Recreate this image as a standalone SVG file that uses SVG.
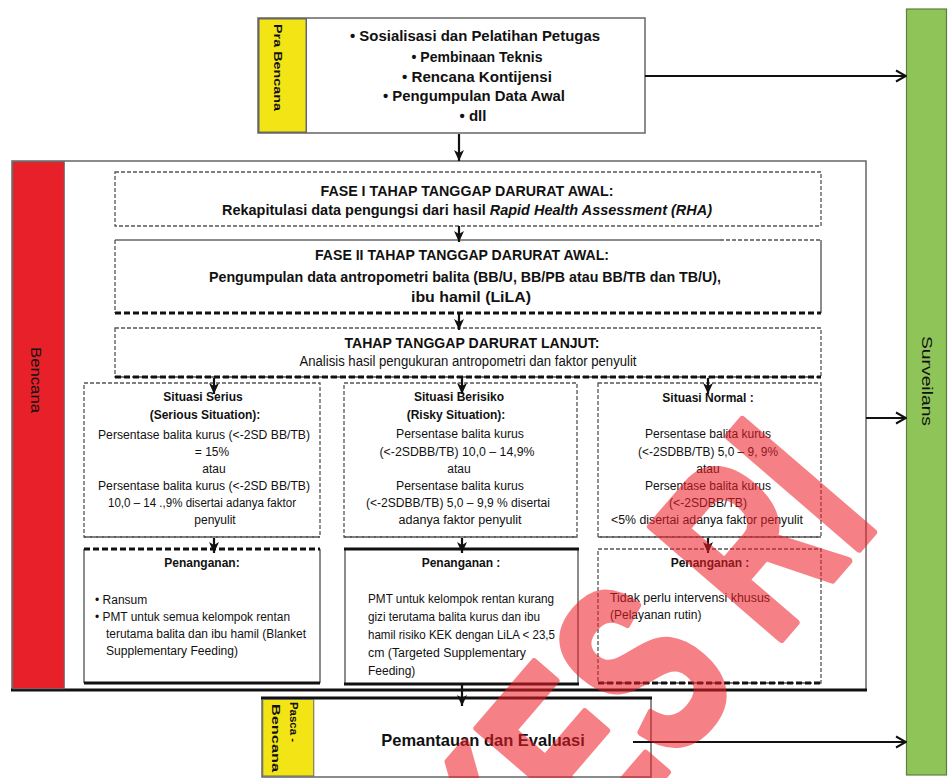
<svg xmlns="http://www.w3.org/2000/svg" width="949" height="778" viewBox="0 0 949 778">
<style>
text{font-family:"Liberation Sans",Arial,sans-serif;fill:#111}
.b{font-weight:bold}
.t15{font-size:15px;font-weight:bold}
.t14{font-size:14px}
.t12{font-size:12px}
.m{text-anchor:middle}
.box{fill:#fff;stroke:#666;stroke-width:1.5}
.dash{fill:#fff;stroke:#555;stroke-width:1.3;stroke-dasharray:4 2}
.thickd{stroke:#111;stroke-width:3;stroke-dasharray:6 3;fill:none}
.thick{stroke:#111;stroke-width:3;fill:none}
.grey{stroke:#666;stroke-width:1.5;fill:none}
.greyd{stroke:#555;stroke-width:1.3;stroke-dasharray:4 2;fill:none}
.dn{stroke:#111;stroke-width:2.2;fill:none;marker-end:url(#ah)}
.rt{stroke:#111;stroke-width:2;fill:none;marker-end:url(#ao)}
.wm{font-size:250px;font-weight:bold;text-anchor:end;fill:#EE1C25;stroke:#EE1C25;stroke-width:8;stroke-linejoin:round}
</style>
<defs>
<marker id="ah" markerUnits="userSpaceOnUse" markerWidth="12" markerHeight="12" viewBox="0 0 12 12" refX="11" refY="6" orient="auto">
<path d="M0,1 L11,6 L0,11 L3,6 z" fill="#111"/>
</marker>
<marker id="ao" markerUnits="userSpaceOnUse" markerWidth="14" markerHeight="14" viewBox="0 0 14 14" refX="13" refY="7" orient="auto">
<path d="M3,1.5 L13,7 L3,12.5" fill="none" stroke="#111" stroke-width="2"/>
</marker>
</defs>

<g id="surveilans">
<rect x="906.5" y="9" width="40" height="766" fill="#8FC458" stroke="#5f7f3c" stroke-width="1.2"/>
<text class="t14" transform="translate(922,336) rotate(90)" textLength="90" lengthAdjust="spacingAndGlyphs">Surveilans</text>
</g>

<g id="pra-bencana">
<rect class="box" x="258" y="18" width="387" height="115"/>
<rect x="258.75" y="18.75" width="47.5" height="113.5" fill="#F3E515" stroke="#666" stroke-width="1.5"/>
<text transform="translate(274,24) rotate(90)" font-size="10" font-weight="bold" textLength="87" lengthAdjust="spacingAndGlyphs">Pra Bencana</text>
<text class="t15 m" x="475" y="41" textLength="250" lengthAdjust="spacingAndGlyphs">• Sosialisasi dan Pelatihan Petugas</text>
<text class="t15 m" x="477" y="62" textLength="131" lengthAdjust="spacingAndGlyphs">• Pembinaan Teknis</text>
<text class="t15 m" x="477" y="82" textLength="150" lengthAdjust="spacingAndGlyphs">• Rencana Kontijensi</text>
<text class="t15 m" x="474" y="101" textLength="182" lengthAdjust="spacingAndGlyphs">• Pengumpulan Data Awal</text>
<text class="t15 m" x="473" y="121">• dll</text>
</g>

<g id="bencana">
<rect class="box" x="12" y="161" width="854" height="529"/>
<line class="thick" x1="11" y1="690" x2="867" y2="690"/>
<rect x="12.75" y="161.75" width="51.5" height="527" fill="#E8202A" stroke="#666" stroke-width="1"/>
<text class="t14" transform="translate(31,347) rotate(90)" textLength="66" lengthAdjust="spacingAndGlyphs">Bencana</text>
</g>

<g id="fase1">
<rect class="dash" x="115" y="172" width="706" height="54"/>
<text class="t14 b m" x="467" y="196" textLength="293" lengthAdjust="spacingAndGlyphs">FASE I TAHAP TANGGAP DARURAT AWAL:</text>
<text class="t14 b m" x="467" y="215" textLength="490" lengthAdjust="spacingAndGlyphs">Rekapitulasi data pengungsi dari hasil <tspan font-style="italic">Rapid Health Assessment (RHA)</tspan></text>
</g>

<g id="fase2">
<rect x="115" y="240" width="706" height="73" fill="#fff"/>
<line class="grey" x1="115" y1="240" x2="720" y2="240" stroke-width="2"/>
<line class="greyd" x1="720" y1="240" x2="821" y2="240"/>
<line class="greyd" x1="115" y1="240" x2="115" y2="313"/>
<line class="grey" x1="821" y1="240" x2="821" y2="313"/>
<line class="thickd" x1="115" y1="313" x2="821" y2="313"/>
<text class="t14 b m" x="462" y="260" textLength="294" lengthAdjust="spacingAndGlyphs">FASE II TAHAP TANGGAP DARURAT AWAL:</text>
<text class="t14 b m" x="465" y="282" textLength="512" lengthAdjust="spacingAndGlyphs">Pengumpulan data antropometri balita (BB/U, BB/PB atau BB/TB dan TB/U),</text>
<text class="t14 b m" x="471" y="302" textLength="120" lengthAdjust="spacingAndGlyphs">ibu hamil (LiLA)</text>
</g>

<g id="lanjut">
<rect class="dash" x="115" y="328" width="706" height="49"/>
<line class="thickd" x1="115" y1="377" x2="821" y2="377"/>
<text class="t14 b m" x="472" y="348" textLength="255" lengthAdjust="spacingAndGlyphs">TAHAP TANGGAP DARURAT LANJUT:</text>
<text class="t14 m" x="468" y="366" textLength="337" lengthAdjust="spacingAndGlyphs">Analisis hasil pengukuran antropometri dan faktor penyulit</text>
</g>

<g id="serius">
<rect class="dash" x="84" y="383" width="236" height="154"/>
<line class="greyd" x1="84" y1="537" x2="320" y2="537" stroke="#222" stroke-width="2"/>
<text class="t12 b m" x="203" y="401">Situasi Serius</text>
<text class="t12 b m" x="205" y="419">(Serious Situation):</text>
<text class="t12 m" x="204" y="439" textLength="212" lengthAdjust="spacingAndGlyphs">Persentase balita kurus (&lt;-2SD BB/TB)</text>
<text class="t12 m" x="212" y="456">= 15%</text>
<text class="t12 m" x="214" y="473">atau</text>
<text class="t12 m" x="204" y="490" textLength="212" lengthAdjust="spacingAndGlyphs">Persentase balita kurus (&lt;-2SD BB/TB)</text>
<text class="t12 m" x="202" y="507" textLength="188" lengthAdjust="spacingAndGlyphs">10,0 – 14 .,9% disertai adanya faktor</text>
<text class="t12 m" x="215" y="524">penyulit</text>
</g>

<g id="berisiko">
<rect class="dash" x="344" y="383" width="233" height="154"/>
<line class="greyd" x1="344" y1="537" x2="577" y2="537" stroke="#222" stroke-width="2"/>
<text class="t12 b m" x="459" y="401">Situasi Berisiko</text>
<text class="t12 b m" x="456" y="419">(Risky Situation):</text>
<text class="t12 m" x="460" y="438" textLength="128" lengthAdjust="spacingAndGlyphs">Persentase balita kurus</text>
<text class="t12 m" x="457" y="456" textLength="155" lengthAdjust="spacingAndGlyphs">(&lt;-2SDBB/TB) 10,0 – 14,9%</text>
<text class="t12 m" x="459" y="473">atau</text>
<text class="t12 m" x="460" y="490" textLength="128" lengthAdjust="spacingAndGlyphs">Persentase balita kurus</text>
<text class="t12 m" x="458" y="507" textLength="184" lengthAdjust="spacingAndGlyphs">(&lt;-2SDBB/TB) 5,0 – 9,9 % disertai</text>
<text class="t12 m" x="460" y="524" textLength="123" lengthAdjust="spacingAndGlyphs">adanya faktor penyulit</text>
</g>

<g id="normal">
<rect class="dash" x="598" y="383" width="223" height="154"/>
<line class="greyd" x1="598" y1="537" x2="821" y2="537" stroke="#222" stroke-width="2"/>
<text class="t12 b m" x="708" y="402">Situasi Normal :</text>
<text class="t12 m" x="708" y="438" textLength="126" lengthAdjust="spacingAndGlyphs">Persentase balita kurus</text>
<text class="t12 m" x="708" y="456" textLength="140" lengthAdjust="spacingAndGlyphs">(&lt;-2SDBB/TB) 5,0 – 9, 9%</text>
<text class="t12 m" x="708" y="473">atau</text>
<text class="t12 m" x="708" y="490" textLength="126" lengthAdjust="spacingAndGlyphs">Persentase balita kurus</text>
<text class="t12 m" x="708" y="507" textLength="78" lengthAdjust="spacingAndGlyphs">(&lt;-2SDBB/TB)</text>
<text class="t12 m" x="707" y="524" textLength="192" lengthAdjust="spacingAndGlyphs">&lt;5% disertai adanya faktor penyulit</text>
</g>

<g id="penanganan-serius">
<rect x="84" y="549" width="236" height="134" fill="#fff"/>
<line class="grey" x1="84" y1="549" x2="84" y2="683"/>
<line class="grey" x1="320" y1="549" x2="320" y2="683"/>
<line class="thickd" x1="84" y1="549" x2="320" y2="549" stroke-width="2.5"/>
<line class="thick" x1="84" y1="683" x2="320" y2="683"/>
<text class="t12 b m" x="202" y="567">Penanganan:</text>
<text class="t12" x="95" y="604">• Ransum</text>
<text class="t12" x="95" y="621" textLength="195" lengthAdjust="spacingAndGlyphs">• PMT untuk semua kelompok rentan</text>
<text class="t12" x="106" y="638" textLength="200" lengthAdjust="spacingAndGlyphs">terutama balita dan ibu hamil (Blanket</text>
<text class="t12" x="106" y="655" textLength="132" lengthAdjust="spacingAndGlyphs">Supplementary Feeding)</text>
</g>

<g id="penanganan-berisiko">
<rect x="345" y="549" width="233" height="135" fill="#fff"/>
<line class="grey" x1="345" y1="549" x2="345" y2="684"/>
<line class="grey" x1="578" y1="549" x2="578" y2="684"/>
<line class="thick" x1="344" y1="549" x2="579" y2="549"/>
<line class="thick" x1="344" y1="684" x2="579" y2="684"/>
<text class="t12 b m" x="461" y="567">Penanganan :</text>
<text class="t12" x="368" y="603" textLength="186" lengthAdjust="spacingAndGlyphs">PMT untuk kelompok rentan kurang</text>
<text class="t12" x="368" y="621" textLength="172" lengthAdjust="spacingAndGlyphs">gizi terutama balita kurus dan ibu</text>
<text class="t12" x="368" y="639" textLength="187" lengthAdjust="spacingAndGlyphs">hamil risiko KEK dengan LiLA &lt; 23,5</text>
<text class="t12" x="368" y="657" textLength="158" lengthAdjust="spacingAndGlyphs">cm (Targeted Supplementary</text>
<text class="t12" x="368" y="675">Feeding)</text>
</g>

<g id="penanganan-normal">
<rect class="dash" x="598" y="549" width="223" height="134"/>
<line class="thickd" x1="598" y1="683" x2="821" y2="683"/>
<text class="t12 b m" x="710" y="567">Penanganan :</text>
<text class="t12" x="610" y="602" textLength="160" lengthAdjust="spacingAndGlyphs">Tidak perlu intervensi khusus</text>
<text class="t12" x="610" y="619">(Pelayanan rutin)</text>
</g>

<g id="pasca-bencana">
<rect class="box" x="262" y="698" width="389" height="79"/>
<line class="thick" x1="261" y1="698" x2="652" y2="698"/>
<rect x="262.75" y="699.5" width="51" height="76.5" fill="#F3E515" stroke="#666" stroke-width="1"/>
<text transform="translate(290,702) rotate(90)" font-size="10" font-weight="bold" textLength="40" lengthAdjust="spacingAndGlyphs">Pasca -</text>
<text transform="translate(272,704) rotate(90)" font-size="10" font-weight="bold" textLength="68" lengthAdjust="spacingAndGlyphs">Bencana</text>
<text class="b m" x="483" y="746" font-size="16.5">Pemantauan dan Evaluasi</text>
</g>

<g id="connectors">
<line class="dn" x1="459" y1="134" x2="459" y2="161"/>
<line class="dn" x1="459" y1="226" x2="459" y2="242"/>
<line class="dn" x1="459" y1="314" x2="459" y2="330"/>
<line class="dn" x1="214" y1="378" x2="214" y2="394"/>
<line class="dn" x1="462" y1="378" x2="462" y2="394"/>
<line class="dn" x1="708" y1="378" x2="708" y2="394"/>
<line class="dn" x1="214" y1="538" x2="214" y2="553"/>
<line class="dn" x1="462" y1="538" x2="462" y2="553"/>
<line class="dn" x1="708" y1="538" x2="708" y2="553"/>
<line class="dn" x1="462" y1="684" x2="462" y2="706"/>
<line class="rt" x1="645" y1="76" x2="906" y2="76"/>
<line class="rt" x1="866" y1="418" x2="906" y2="418"/>
<line class="rt" x1="633" y1="742" x2="906" y2="742"/>
</g>

<g id="watermark" opacity="0.55">
<text class="wm" transform="translate(881,523) rotate(-49.3) scale(0.66,1)">KEMENKES RI</text>
</g>
</svg>
